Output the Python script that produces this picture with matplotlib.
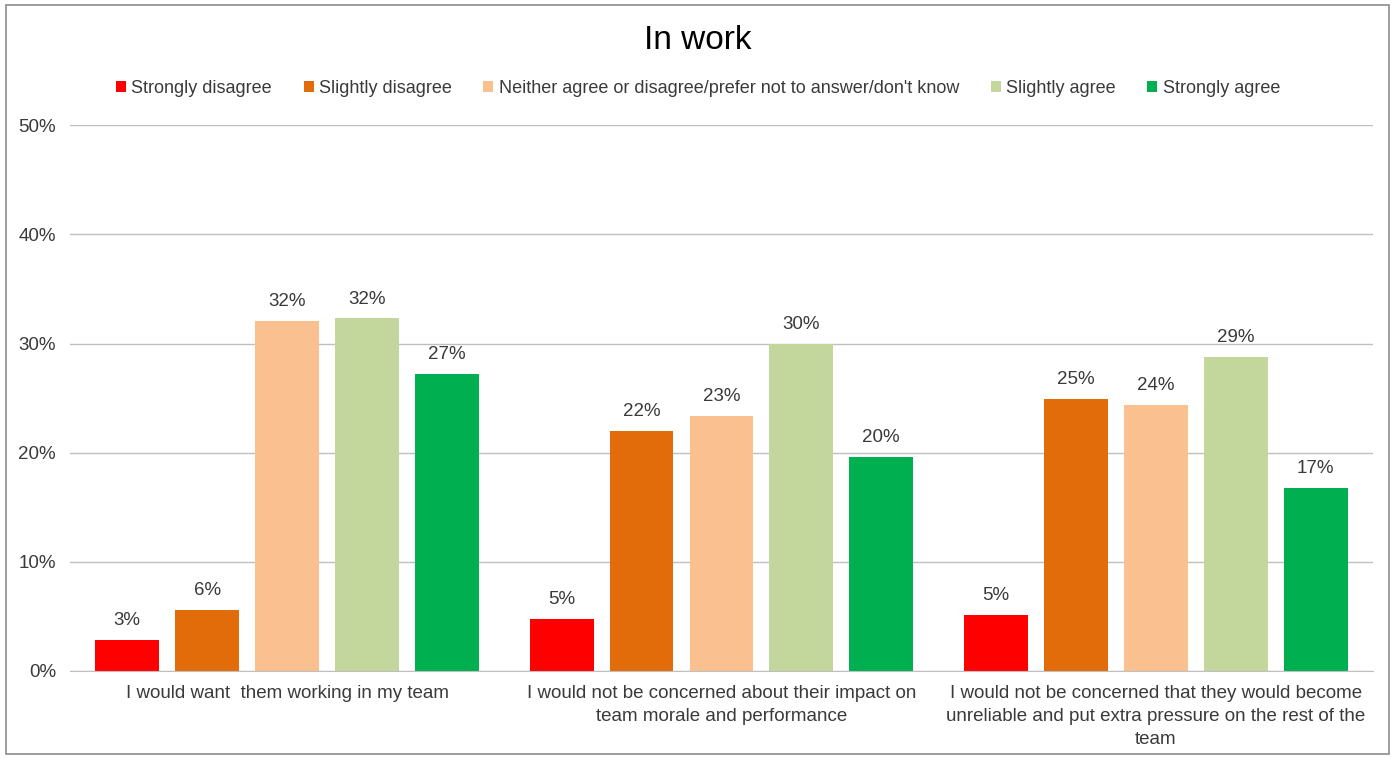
import numpy as np
import matplotlib.pyplot as plt
from matplotlib.patches import Rectangle

plt.rcParams['font.family'] = ['Liberation Sans', 'DejaVu Sans']

questions = [
    "I would want  them working in my team",
    "I would not be concerned about their impact on\nteam morale and performance",
    "I would not be concerned that they would become\nunreliable and put extra pressure on the rest of the\nteam",
]
responses = [
    "Strongly disagree",
    "Slightly disagree",
    "Neither agree or disagree/prefer not to answer/don't know",
    "Slightly agree",
    "Strongly agree",
]
colors = ["#FF0000", "#E36C0A", "#FAC090", "#C3D69B", "#00B050"]

# percentage per response, one entry per question
strongly_disagree = [2.8, 4.8, 5.1]
slightly_disagree = [5.6, 22.0, 24.9]
neither = [32.1, 23.4, 24.4]
slightly_agree = [32.3, 30.0, 28.8]
strongly_agree = [27.2, 19.6, 16.8]
series = [strongly_disagree, slightly_disagree, neither, slightly_agree, strongly_agree]

fig = plt.figure(figsize=(13.96, 7.59), dpi=100)
ax = fig.add_axes([0.0501, 0.116, 0.9334, 0.719])

x = np.arange(len(questions))
step = 0.184
width = 0.147
text_col = "#3A3A3A"

for i, (vals, name, col) in enumerate(zip(series, responses, colors)):
    pos = x + (i - 2) * step
    bars = ax.bar(pos, vals, width, color=col, label=name, zorder=3)
    for b, v in zip(bars, vals):
        ax.text(b.get_x() + b.get_width() / 2, v + 1.0, f"{v:.0f}%",
                ha='center', va='bottom', fontsize=13.5, color=text_col)

ax.set_xlim(-0.5, 2.5)
ax.set_ylim(0, 50)
ax.set_yticks(range(0, 51, 10))
ax.set_yticklabels([f"{t}%" for t in range(0, 51, 10)])
ax.yaxis.grid(True, color="#BFBFBF", linewidth=1, zorder=0)
ax.set_xticks(x)
ax.set_xticklabels(questions, fontsize=13.5, color=text_col, linespacing=1.45)
ax.tick_params(axis='both', length=0, labelsize=13.5, labelcolor=text_col)
ax.tick_params(axis='x', pad=10)
ax.tick_params(axis='y', pad=10)
for side in ['top', 'right', 'left']:
    ax.spines[side].set_visible(False)
ax.spines['bottom'].set_color("#BFBFBF")
ax.spines['bottom'].set_zorder(4)

fig.text(0.5, 0.947, "In work", ha='center', va='center', fontsize=24, color="black")
fig.legend(loc='center', bbox_to_anchor=(0.5, 0.884), ncol=5, frameon=False,
           fontsize=13, handlelength=0.55, handleheight=0.55, handletextpad=0.3,
           columnspacing=1.75, labelcolor=text_col)

fig.patches.append(Rectangle((0.004, 0.006), 0.991, 0.988, transform=fig.transFigure,
                             fill=False, edgecolor="#8C8C8C", linewidth=1.2))

fig.savefig("out.png", dpi=100)
